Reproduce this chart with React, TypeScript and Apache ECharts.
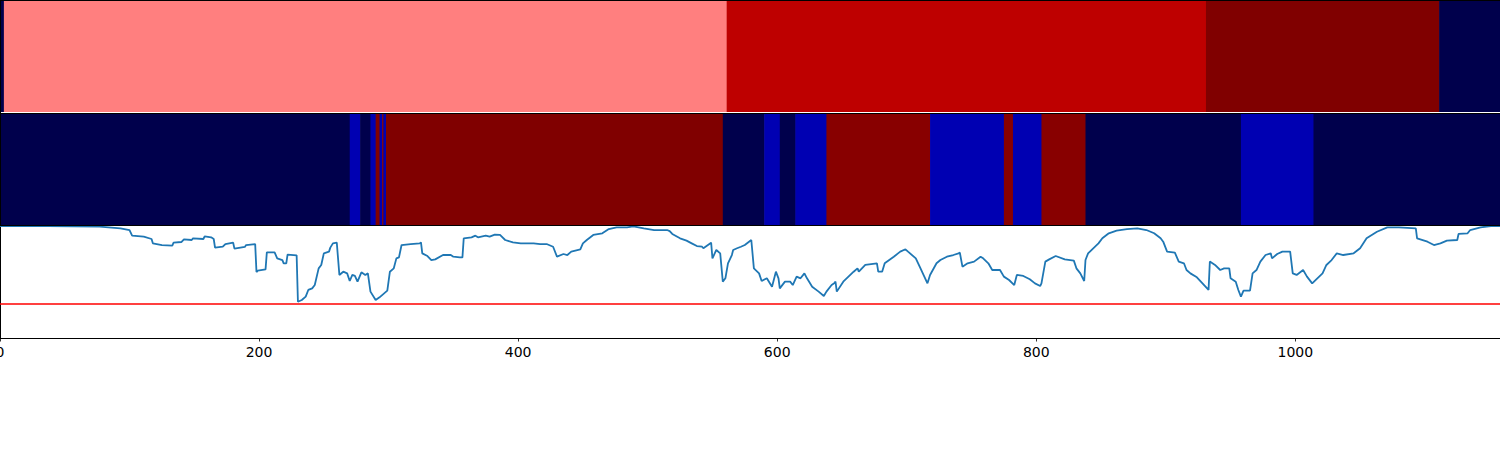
import React, { useEffect, useRef } from "react";
import * as echarts from "echarts";

// Colour levels of the two strip rows (seismic-like palette)
const palette = ["#00004C", "#0000B2", "#FF7F7F", "#BE0000", "#800000", "#880000"];

// Top strip: segment boundaries (x units) and colour level of each segment
const topBounds = [0, 3, 561, 931, 1111, 1158];
const topLevels = [0, 2, 3, 4, 0];

// Middle strip
const midBounds = [0, 270, 278, 286, 290, 293, 295, 296, 298, 558, 590, 602, 614, 638, 718, 775, 782, 804, 838, 958, 1014, 1158];
const midLevels = [0, 1, 0, 1, 4, 1, 4, 1, 4, 0, 1, 0, 1, 5, 1, 5, 1, 5, 0, 1, 0];

// Bottom line series
const lineX = [0, 37, 77, 93, 100, 102, 111, 117, 118, 125, 133, 134, 140, 142, 148, 149, 157, 158, 163, 165, 166, 172, 174, 180, 181, 189, 190, 197, 198, 199, 205, 206, 212, 214, 218, 219, 221, 222, 229, 230, 233, 236, 238, 241, 243, 246, 248, 250, 254, 255, 257, 260, 262, 265, 268, 270, 272, 274, 276, 279, 282, 284, 286, 290, 293, 299, 301, 304, 306, 308, 310, 317, 324, 325, 326, 330, 333, 336, 342, 348, 350, 355, 357, 358, 364, 367, 369, 375, 378, 382, 386, 390, 396, 402, 407, 412, 417, 422, 427, 430, 435, 438, 441, 448, 450, 453, 458, 465, 470, 476, 484, 489, 497, 505, 515, 517, 519, 525, 530, 534, 538, 542, 543, 549, 550, 553, 556, 558, 560, 562, 565, 566, 569, 572, 575, 580, 582, 586, 588, 592, 596, 599, 601, 602, 606, 610, 612, 615, 618, 621, 623, 627, 632, 636, 638, 642, 644, 645, 646, 651, 659, 662, 663, 668, 677, 678, 681, 683, 690, 695, 699, 701, 707, 710, 716, 718, 723, 726, 731, 736, 740, 741, 743, 747, 752, 757, 759, 763, 766, 772, 775, 779, 783, 785, 790, 795, 799, 803, 804, 807, 810, 815, 822, 829, 831, 834, 837, 838, 840, 844, 848, 851, 856, 862, 870, 878, 885, 891, 896, 898, 901, 907, 910, 914, 916, 919, 924, 933, 934, 938, 942, 945, 949, 950, 954, 956, 958, 960, 965, 967, 970, 973, 977, 981, 982, 986, 990, 996, 998, 1001, 1006, 1009, 1013, 1017, 1021, 1024, 1028, 1032, 1037, 1045, 1050, 1055, 1063, 1071, 1080, 1093, 1094, 1102, 1107, 1112, 1117, 1125, 1126, 1133, 1135, 1143, 1151, 1158];
const lineY = [1.0, 1.0, 0.994, 0.979, 0.964, 0.914, 0.905, 0.884, 0.845, 0.83, 0.824, 0.851, 0.857, 0.881, 0.875, 0.89, 0.884, 0.908, 0.899, 0.884, 0.807, 0.815, 0.839, 0.851, 0.798, 0.813, 0.83, 0.839, 0.589, 0.601, 0.613, 0.765, 0.765, 0.711, 0.696, 0.667, 0.667, 0.744, 0.738, 0.324, 0.339, 0.369, 0.429, 0.443, 0.473, 0.622, 0.652, 0.756, 0.771, 0.807, 0.845, 0.851, 0.563, 0.592, 0.577, 0.509, 0.563, 0.554, 0.503, 0.586, 0.563, 0.577, 0.414, 0.339, 0.363, 0.423, 0.592, 0.622, 0.711, 0.72, 0.83, 0.839, 0.845, 0.854, 0.756, 0.732, 0.696, 0.702, 0.741, 0.741, 0.726, 0.72, 0.72, 0.89, 0.899, 0.914, 0.899, 0.914, 0.905, 0.923, 0.92, 0.875, 0.854, 0.845, 0.845, 0.845, 0.839, 0.839, 0.815, 0.726, 0.75, 0.741, 0.771, 0.792, 0.845, 0.875, 0.92, 0.935, 0.973, 0.988, 0.988, 0.997, 0.979, 0.964, 0.964, 0.955, 0.929, 0.89, 0.869, 0.845, 0.821, 0.815, 0.801, 0.851, 0.711, 0.786, 0.756, 0.503, 0.533, 0.667, 0.741, 0.786, 0.801, 0.815, 0.83, 0.875, 0.622, 0.577, 0.509, 0.533, 0.458, 0.592, 0.533, 0.443, 0.503, 0.503, 0.473, 0.548, 0.533, 0.577, 0.533, 0.458, 0.414, 0.375, 0.414, 0.473, 0.488, 0.503, 0.414, 0.503, 0.592, 0.622, 0.592, 0.652, 0.667, 0.592, 0.592, 0.667, 0.726, 0.771, 0.792, 0.771, 0.711, 0.637, 0.488, 0.563, 0.667, 0.696, 0.726, 0.741, 0.756, 0.762, 0.637, 0.667, 0.682, 0.726, 0.711, 0.667, 0.607, 0.607, 0.548, 0.518, 0.473, 0.563, 0.554, 0.524, 0.488, 0.464, 0.488, 0.682, 0.702, 0.732, 0.702, 0.691, 0.622, 0.577, 0.509, 0.696, 0.756, 0.801, 0.845, 0.89, 0.935, 0.958, 0.973, 0.979, 0.964, 0.935, 0.89, 0.86, 0.771, 0.762, 0.682, 0.667, 0.607, 0.577, 0.542, 0.429, 0.682, 0.652, 0.607, 0.622, 0.622, 0.533, 0.503, 0.429, 0.369, 0.423, 0.423, 0.577, 0.607, 0.682, 0.741, 0.756, 0.711, 0.75, 0.771, 0.771, 0.577, 0.563, 0.607, 0.548, 0.488, 0.533, 0.577, 0.652, 0.696, 0.756, 0.741, 0.756, 0.801, 0.89, 0.949, 0.988, 0.988, 0.979, 0.89, 0.86, 0.83, 0.845, 0.869, 0.875, 0.929, 0.935, 0.964, 0.988, 1.0, 1.0];

const threshold = 0.31;
const xTicks = [0, 200, 400, 600, 800, 1000];
const xMin = 0;
const xMax = 1158;

function segments(bounds: number[], levels: number[]) {
  return levels.map((lv, i) => [bounds[i], bounds[i + 1], lv]);
}

function stripSeries(idx: number, data: number[][]) {
  return {
    type: "custom",
    xAxisIndex: idx,
    yAxisIndex: idx,
    clip: true,
    data,
    renderItem: (params: any, api: any) => {
      const a = api.coord([api.value(0), 0]);
      const b = api.coord([api.value(1), 0]);
      const cs = params.coordSys;
      return {
        type: "rect",
        shape: { x: a[0], y: cs.y, width: b[0] - a[0] + 0.6, height: cs.height },
        style: { fill: palette[api.value(2)], stroke: null },
      };
    },
  };
}

export default function App() {
  const ref = useRef<HTMLDivElement>(null);
  useEffect(() => {
    if (!ref.current) return;
    const chart = echarts.init(ref.current, undefined, { renderer: "svg" });
    const hiddenX = (i: number) => ({
      type: "value", gridIndex: i, min: xMin, max: xMax, show: false,
    });
    const hiddenY = (i: number) => ({
      type: "value", gridIndex: i, min: 0, max: 1, show: false,
    });
    const g = { left: 0, width: 1500, containLabel: false, outerBoundsMode: "none" };
    chart.setOption({
      animation: false,
      backgroundColor: "#ffffff",
      grid: [
        { ...g, top: 1, height: 111 },
        { ...g, top: 114, height: 111 },
        { ...g, top: 226, height: 112 },
      ],
      xAxis: [
        hiddenX(0),
        hiddenX(1),
        {
          type: "value",
          gridIndex: 2,
          min: xMin,
          max: xMax,
          axisLine: { show: true, lineStyle: { color: "#000", width: 1 } },
          axisTick: { show: true, length: 3.5, lineStyle: { color: "#000", width: 0.8 }, customValues: xTicks },
          axisLabel: {
            show: true, color: "#000", fontSize: 14, fontFamily: "DejaVu Sans", margin: 7,
            customValues: xTicks,
            hideOverlap: false,
            formatter: (v: number) => String(v),
          },
          splitLine: { show: false },
        },
      ],
      yAxis: [
        hiddenY(0),
        hiddenY(1),
        {
          type: "value", gridIndex: 2, min: 0, max: 1,
          axisLine: { show: true, onZero: false, lineStyle: { color: "#000", width: 1 } },
          axisTick: { show: false }, axisLabel: { show: false }, splitLine: { show: false },
        },
      ],
      series: [
        stripSeries(0, segments(topBounds, topLevels)),
        stripSeries(1, segments(midBounds, midLevels)),
        {
          type: "line",
          xAxisIndex: 2,
          yAxisIndex: 2,
          data: lineX.map((x, i) => [x, lineY[i]]),
          showSymbol: false,
          symbol: "none",
          lineStyle: { color: "#1f77b4", width: 1.8 },
          markLine: {
            silent: true,
            symbol: ["none", "none"],
            label: { show: false },
            lineStyle: { color: "#ff0000", width: 1.5, type: "solid" },
            data: [{ yAxis: threshold }],
          },
        },
      ],
      graphic: [
        { type: "line", shape: { x1: 0, y1: 0.5, x2: 1500, y2: 0.5 }, style: { stroke: "#000", lineWidth: 1 }, z: 100 },
        { type: "line", shape: { x1: 0, y1: 113.5, x2: 1500, y2: 113.5 }, style: { stroke: "#000", lineWidth: 1 }, z: 100 },
        { type: "line", shape: { x1: 0, y1: 225.5, x2: 1500, y2: 225.5 }, style: { stroke: "#000", lineWidth: 1 }, z: 100 },
        { type: "line", shape: { x1: 0.5, y1: 0, x2: 0.5, y2: 226 }, style: { stroke: "#000", lineWidth: 1 }, z: 100 },
      ],
    });
    return () => chart.dispose();
  }, []);
  return (
    <div
      ref={ref}
      style={{ position: "fixed", left: 0, top: 0, width: 1500, height: 450 }}
    />
  );
}
